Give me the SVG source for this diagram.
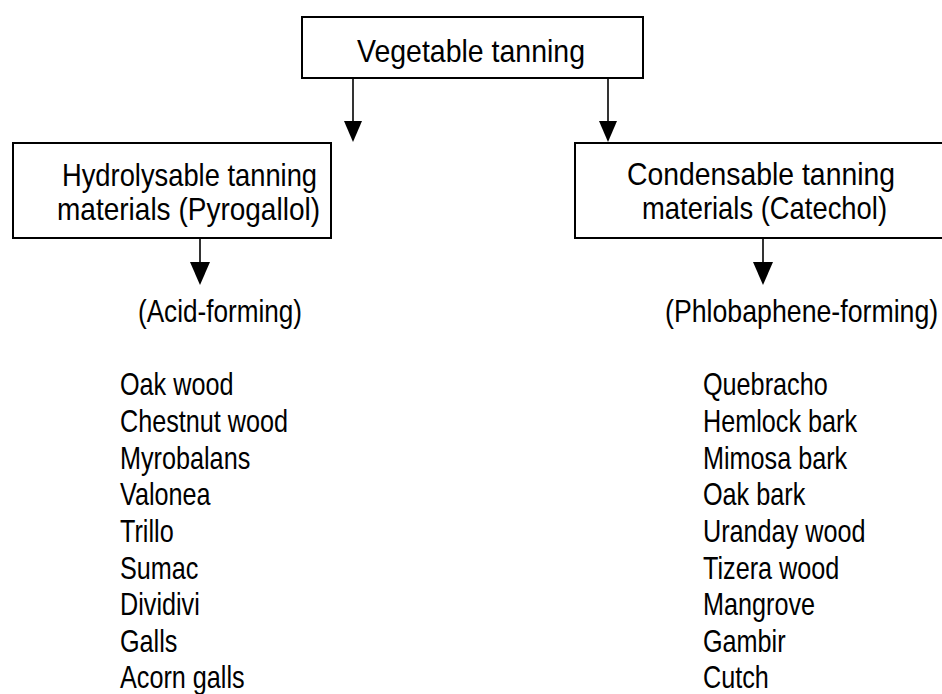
<svg xmlns="http://www.w3.org/2000/svg" width="942" height="694" viewBox="0 0 942 694">
<style>
.box{fill:#fff;stroke:#000;stroke-width:2}
.t{font-family:"Liberation Sans",Arial,sans-serif;font-size:32px;fill:#000}
.ln{stroke:#000;stroke-width:1.6;fill:none}
.ah{fill:#000}
</style>
<rect width="942" height="694" fill="#fff"/>
<g id="connectors">
<line class="ln" x1="353" y1="78" x2="353" y2="124"/>
<polygon class="ah" points="344,121 362,121 353,142"/>
<line class="ln" x1="608" y1="78" x2="608" y2="124"/>
<polygon class="ah" points="599,121 617,121 608,142"/>
<line class="ln" x1="200" y1="238" x2="200" y2="265"/>
<polygon class="ah" points="190,262 210,262 200,285"/>
<line class="ln" x1="763" y1="238" x2="763" y2="265"/>
<polygon class="ah" points="753,262 773,262 763,285"/>
</g>
<g id="vegetable-tanning">
<rect class="box" x="302" y="17" width="341" height="61"/>
<text class="t" x="357" y="62" textLength="228" lengthAdjust="spacingAndGlyphs">Vegetable tanning</text>
</g>
<g id="hydrolysable">
<rect class="box" x="13" y="143" width="318" height="95"/>
<text class="t" x="62" y="186" textLength="255" lengthAdjust="spacingAndGlyphs">Hydrolysable tanning</text>
<text class="t" x="57" y="220" textLength="263" lengthAdjust="spacingAndGlyphs">materials (Pyrogallol)</text>
</g>
<g id="condensable">
<rect class="box" x="575" y="143" width="372" height="95"/>
<text class="t" x="627" y="185" textLength="268" lengthAdjust="spacingAndGlyphs">Condensable tanning</text>
<text class="t" x="642" y="219" textLength="245" lengthAdjust="spacingAndGlyphs">materials (Catechol)</text>
</g>
<g id="acid-forming">
<text class="t" x="138" y="322" textLength="164" lengthAdjust="spacingAndGlyphs">(Acid-forming)</text>
</g>
<g id="phlobaphene-forming" transform="translate(665 322) scale(0.835 1)">
<text class="t" x="0" y="0">(Phlobaphene-forming)</text>
</g>
<g id="acid-list" transform="translate(120 0) scale(0.7875 1)">
<text class="t" x="0" y="395">Oak wood</text>
<text class="t" x="0" y="432">Chestnut wood</text>
<text class="t" x="0" y="469">Myrobalans</text>
<text class="t" x="0" y="505">Valonea</text>
<text class="t" x="0" y="542">Trillo</text>
<text class="t" x="0" y="579">Sumac</text>
<text class="t" x="0" y="615">Dividivi</text>
<text class="t" x="0" y="652">Galls</text>
<text class="t" x="0" y="688">Acorn galls</text>
</g>
<g id="phlobaphene-list" transform="translate(703 0) scale(0.7875 1)">
<text class="t" x="0" y="395">Quebracho</text>
<text class="t" x="0" y="432">Hemlock bark</text>
<text class="t" x="0" y="469">Mimosa bark</text>
<text class="t" x="0" y="505">Oak bark</text>
<text class="t" x="0" y="542">Uranday wood</text>
<text class="t" x="0" y="579">Tizera wood</text>
<text class="t" x="0" y="615">Mangrove</text>
<text class="t" x="0" y="652">Gambir</text>
<text class="t" x="0" y="688">Cutch</text>
</g>
</svg>
